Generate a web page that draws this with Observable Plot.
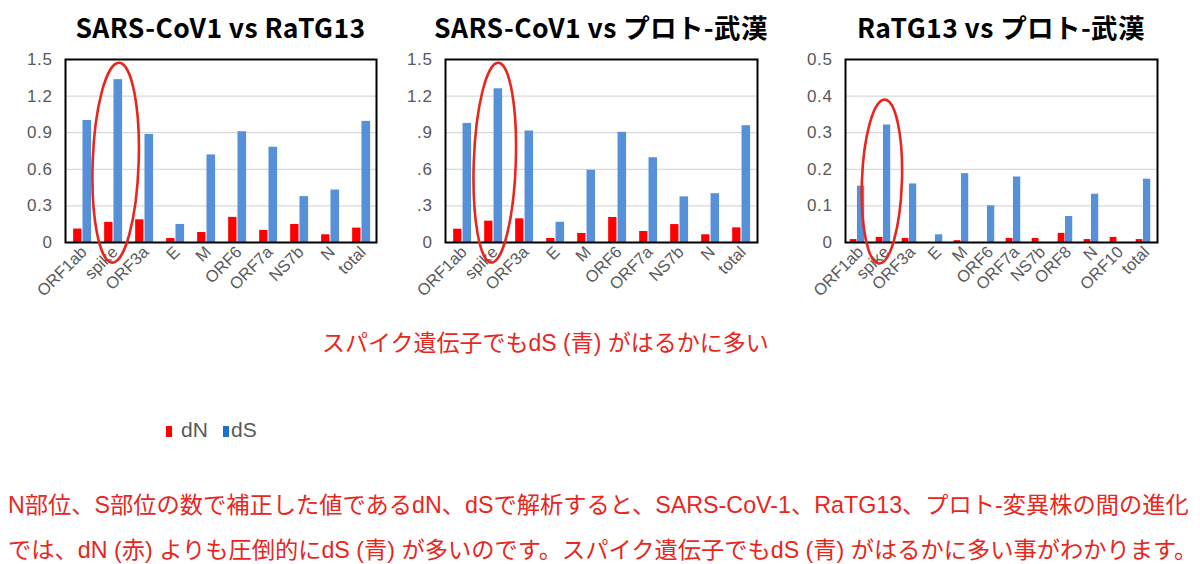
<!DOCTYPE html>
<html>
<head>
<meta charset="utf-8">
<script src="https://cdn.jsdelivr.net/npm/d3@7"></script>
<script src="https://cdn.jsdelivr.net/npm/@observablehq/plot@0.6"></script>
<style>
  html, body { margin: 0; padding: 0; background: #fff; }
  #root { position: relative; width: 1200px; height: 564px; overflow: hidden; font-family: "Liberation Sans", "Noto Sans CJK JP", sans-serif; }
  .abs { position: absolute; white-space: nowrap; line-height: 1; }
  .title { font-family: "Noto Sans CJK JP", sans-serif; font-weight: 700; font-size: 26.5px; letter-spacing: 0.4px; color: #000; text-align: center; }
  .red { color: #e8261d; }
  .chart { position: absolute; }
  .legend { font-size: 21px; color: #595959; }
</style>
</head>
<body>
<div id="root"></div>
<script>
// ---- data ----
const genes12 = ["ORF1ab", "spike", "ORF3a", "E", "M", "ORF6", "ORF7a", "NS7b", "N", "total"];
const dN_SvR = [0.11, 0.165, 0.186, 0.033, 0.082, 0.206, 0.099, 0.148, 0.063, 0.118];
const dS_SvR = [1.0, 1.335, 0.886, 0.148, 0.718, 0.908, 0.781, 0.376, 0.43, 0.993];
const dN_SvP = [0.109, 0.175, 0.194, 0.033, 0.074, 0.205, 0.09, 0.147, 0.063, 0.12];
const dS_SvP = [0.976, 1.26, 0.914, 0.166, 0.592, 0.903, 0.695, 0.374, 0.40, 0.957];
const genes3 = ["ORF1ab", "spike", "ORF3a", "E", "M", "ORF6", "ORF7a", "NS7b", "ORF8", "N", "ORF10", "total"];
const dN_RvP = [0.008, 0.014, 0.011, 0, 0.005, 0, 0.011, 0.011, 0.025, 0.008, 0.014, 0.008];
const dS_RvP = [0.154, 0.321, 0.16, 0.021, 0.188, 0.10, 0.179, 0, 0.071, 0.132, 0, 0.173];

const yTicks15 = [0, 0.3, 0.6, 0.9, 1.2, 1.5];
const yLabels1 = ["0", "0.3", "0.6", "0.9", "1.2", "1.5"];
const yLabels2 = ["0", ".3", ".6", ".9", "1.2", "1.5"];
const yTicks05 = [0, 0.1, 0.2, 0.3, 0.4, 0.5];
const yLabels3 = ["0", "0.1", "0.2", "0.3", "0.4", "0.5"];

const titles = ["SARS-CoV1 vs RaTG13", "SARS-CoV1 vs プロト-武漢", "RaTG13 vs プロト-武漢"];
const seriesNames = ["dN", "dS"];
const seriesColors = ["#ff0000", "#5590d9"];
const legendColors = ["#ff0000", "#1f6fc6"];
const subtitle = "スパイク遺伝子でもdS (青) がはるかに多い";
const caption1 = "N部位、S部位の数で補正した値であるdN、dSで解析すると、SARS-CoV-1、RaTG13、プロト-変異株の間の進化";
const caption2 = "では、dN (赤) よりも圧倒的にdS (青) が多いのです。スパイク遺伝子でもdS (青) がはるかに多い事がわかります。";

// annotation ellipses (highlight the spike gene)
const ellipseGene = "spike";
const ellipseMid = [0.65, 0.65, 0.165];

const root = document.getElementById("root");

function chart({genes, dN, dS, ticks, labels, ymax, width, left, ml, mr, a, ellipse}) {
  const data = genes.map((g, i) => ({gene: g, dN: dN[i], dS: dS[i]}));
  const height = 270, mt = 19, mb = 68;
  const bw = (width - ml - mr) / genes.length;
  const plot = Plot.plot({
    width, height,
    marginLeft: ml, marginRight: mr, marginTop: mt, marginBottom: mb,
    style: {fontFamily: "'Liberation Sans', sans-serif", fontSize: "16.5px", color: "#595959", background: "transparent", overflow: "visible"},
    x: {domain: genes, padding: 0, label: null, tickSize: 0, tickRotate: -45, tickPadding: 9},
    y: {domain: [0, ymax], ticks, tickFormat: d => labels[ticks.indexOf(d)], label: null, tickSize: 0, tickPadding: 13},
    marks: [
      Plot.ruleY(ticks.slice(1, -1), {stroke: "#d9d9d9", strokeWidth: 1.2}),
      Plot.barY(data, {x: "gene", y: "dN", fill: seriesColors[0], insetLeft: bw * a[0], insetRight: bw * (1 - a[1])}),
      Plot.barY(data, {x: "gene", y: "dS", fill: seriesColors[1], insetLeft: bw * a[2], insetRight: bw * (1 - a[3])}),
      Plot.frame({stroke: "#000", strokeWidth: 2})
    ]
  });
  // slightly wider tick text, like the original
  d3.select(plot).selectAll("g[aria-label='y-axis'] text, g[aria-label='y-axis tick label'] text")
    .style("font-size", "17px").style("letter-spacing", "0.6px");
  d3.select(plot).selectAll("g[aria-label='x-axis'] text, g[aria-label='x-axis tick label'] text")
    .attr("dx", 3);
  const sx = plot.scale("x"), sy = plot.scale("y");
  const cx = sx.apply(ellipseGene) + bw * ellipse.off;
  const cy = sy.apply(ellipse.mid);
  d3.select(plot).append("ellipse")
    .attr("cx", cx).attr("cy", cy).attr("rx", ellipse.rx).attr("ry", ellipse.ry)
    .attr("fill", "none").attr("stroke", "#e8261d").attr("stroke-width", 2.6)
    .attr("transform", `rotate(${ellipse.rot} ${cx} ${cy})`);
  const wrap = document.createElement("div");
  wrap.className = "chart";
  wrap.style.left = left + "px";
  wrap.style.top = "40px";
  wrap.appendChild(plot);
  root.appendChild(wrap);
  // title centered over the frame
  const t = document.createElement("div");
  t.className = "abs title";
  t.textContent = ellipse.title;
  t.style.left = (left + ml - 100) + "px";
  t.style.width = (width - ml - mr + 200) + "px";
  t.style.top = "14px";
  root.appendChild(t);
}

chart({genes: genes12, dN: dN_SvR, dS: dS_SvR, ticks: yTicks15, labels: yLabels1, ymax: 1.5,
  width: 400, left: 0, ml: 65, mr: 24, a: [0.23, 0.5, 0.53, 0.81],
  ellipse: {mid: ellipseMid[0], off: 0.6, rx: 23, ry: 100, rot: 2, title: titles[0]}});
chart({genes: genes12, dN: dN_SvP, dS: dS_SvP, ticks: yTicks15, labels: yLabels2, ymax: 1.5,
  width: 400, left: 400, ml: 45, mr: 43, a: [0.23, 0.5, 0.53, 0.81],
  ellipse: {mid: ellipseMid[1], off: 0.57, rx: 21, ry: 100, rot: 2, title: titles[1]}});
chart({genes: genes3, dN: dN_RvP, dS: dS_RvP, ticks: yTicks05, labels: yLabels3, ymax: 0.5,
  width: 410, left: 790, ml: 55, mr: 43, a: [0.18, 0.44, 0.46, 0.74],
  ellipse: {mid: ellipseMid[2], off: 0.42, rx: 20, ry: 82, rot: 2, title: titles[2]}});

function addText(txt, cls, left, top, size) {
  const d = document.createElement("div");
  d.className = "abs " + cls;
  d.textContent = txt;
  d.style.left = left + "px";
  d.style.top = top + "px";
  if (size) d.style.fontSize = size + "px";
  root.appendChild(d);
  return d;
}
addText(subtitle, "red", 322, 332, 23);

// legend
const swLeft = [166, 223], txtLeft = [181, 231];
seriesNames.forEach((n, i) => {
  const s = document.createElement("div");
  s.className = "abs";
  s.style.left = swLeft[i] + "px";
  s.style.top = "426px";
  s.style.width = "6px";
  s.style.height = "11px";
  s.style.background = legendColors[i];
  root.appendChild(s);
  addText(n, "legend", txtLeft[i], 419);
});

addText(caption1, "red", 8, 494, 23.25);
addText(caption2, "red", 8, 539, 23.25);
</script>
</body>
</html>
